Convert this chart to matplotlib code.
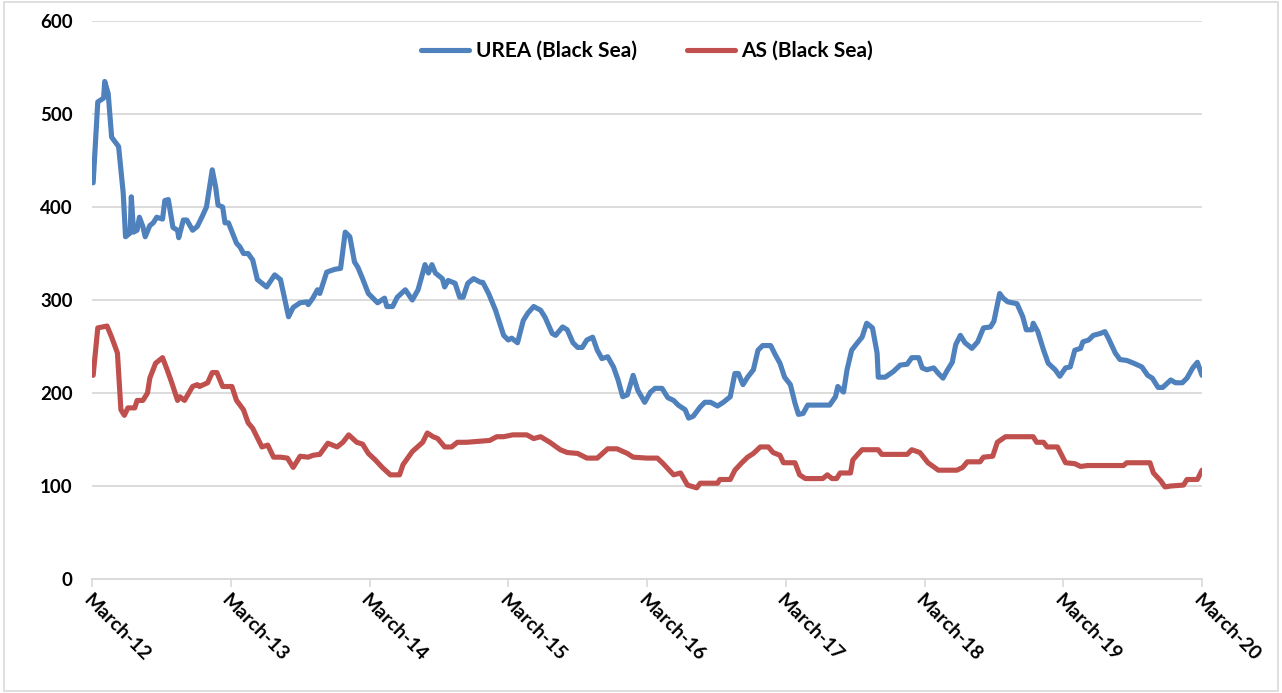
import matplotlib
matplotlib.use("Agg")
import matplotlib.pyplot as plt
from matplotlib.patches import Rectangle

plt.rcParams['font.family'] = ['Lato', 'DejaVu Sans']

# months since March 2012, value (USD/t)
urea_months = [0.1, 0.5, 1.0, 1.1, 1.4, 1.7, 2.3, 2.7, 2.9, 3.3, 3.4, 3.6, 3.9, 4.1, 4.4, 4.6,
               5.0, 5.3, 5.6, 6.1, 6.3, 6.6, 7.0, 7.4, 7.5, 7.9, 8.2, 8.7, 9.1, 9.5, 9.9, 10.4,
               10.7, 10.9, 11.3, 11.5, 11.8, 12.5, 12.8, 13.1, 13.5, 13.9, 14.3, 14.7, 15.1, 15.8,
               16.3, 17.0, 17.4, 18.0, 18.6, 18.7, 19.1, 19.5, 19.7, 20.3, 21.0, 21.5, 21.9, 22.3,
               22.7, 23.0, 23.4, 23.9, 24.7, 25.3, 25.5, 26.0, 26.4, 27.1, 27.7, 28.2, 28.8, 29.1,
               29.4, 29.7, 30.3, 30.5, 30.8, 31.4, 31.8, 32.1, 32.5, 33.0, 33.6, 33.8, 34.3, 34.9,
               35.6, 36.0, 36.3, 36.8, 37.3, 37.7, 38.2, 38.8, 39.2, 39.8, 40.1, 40.7, 41.1, 41.6,
               42.0, 42.4, 42.8, 43.3, 43.7, 44.1, 44.6, 45.1, 45.5, 45.9, 46.3, 46.8, 47.2, 47.8,
               48.3, 48.7, 49.3, 49.8, 50.3, 50.7, 51.3, 51.6, 52.0, 52.6, 53.0, 53.5, 54.1, 54.6,
               55.2, 55.6, 55.9, 56.3, 56.7, 57.2, 57.6, 58.0, 58.7, 59.1, 59.5, 59.9, 60.4, 60.8,
               61.1, 61.5, 61.9, 62.4, 63.8, 64.3, 64.5, 65.0, 65.3, 65.7, 66.2, 66.6, 67.0, 67.5,
               67.9, 68.0, 68.6, 69.3, 69.9, 70.5, 70.9, 71.5, 71.8, 72.2, 72.8, 73.2, 73.6, 74.0,
               74.4, 74.7, 75.1, 75.5, 76.1, 76.6, 77.1, 77.7, 78.0, 78.5, 78.8, 79.2, 80.0, 80.5,
               80.8, 81.3, 81.4, 81.8, 82.3, 82.7, 83.3, 83.7, 84.2, 84.6, 85.0, 85.5, 85.7, 86.2,
               86.6, 87.2, 87.6, 87.9, 88.5, 88.9, 89.5, 90.1, 90.8, 91.3, 91.7, 92.2, 92.6, 93.3,
               93.7, 94.3, 94.7, 95.2, 95.6, 96.0]
urea_values = [426, 513, 517, 535, 522, 475, 465, 415, 368, 372, 411, 373, 375, 389, 379, 368,
               380, 383, 389, 387, 407, 408, 378, 375, 367, 386, 386, 375, 379, 389, 400, 440,
               421, 402, 400, 383, 383, 361, 357, 350, 350, 343, 322, 318, 314, 327,
               322, 282, 292, 297, 298, 295, 302, 311, 307, 330, 333, 334, 373, 368,
               341, 335, 323, 307, 297, 302, 293, 293, 303, 311, 300, 311, 338, 329,
               338, 329, 323, 314, 321, 318, 303, 303, 318, 323, 319, 319, 307, 289,
               262, 257, 259, 254, 278, 286, 293, 289, 281, 264, 262, 271, 268, 254,
               249, 249, 257, 260, 246, 237, 239, 228, 214, 196, 198, 219, 203, 190,
               201, 205, 205, 195, 192, 187, 182, 173, 175, 185, 190, 190, 186, 190,
               196, 221, 221, 209, 217, 225, 246, 251, 251, 241, 232, 217, 209, 189,
               177, 178, 187, 187, 187, 196, 207, 201, 225, 246, 254, 260, 275, 270,
               243, 217, 217, 223, 230, 231, 238, 238, 227, 225, 227, 221, 216, 225,
               233, 252, 262, 254, 248, 255, 270, 271, 277, 307, 302, 298, 296, 282,
               268, 268, 275, 266, 246, 232, 225, 218, 227, 228, 246, 248, 255, 257,
               262, 264, 266, 259, 243, 236, 235, 232, 228, 219, 216, 206, 206, 214,
               211, 211, 216, 227, 233, 219]

as_months = [0.1, 0.5, 1.3, 1.7, 2.2, 2.5, 2.8, 3.1, 3.7, 3.9, 4.4, 4.8, 5.0, 5.5, 6.1, 6.5,
             6.9, 7.4, 7.6, 8.0, 8.7, 9.1, 9.3, 10.0, 10.4, 10.8, 11.3, 12.1, 12.5, 13.1, 13.5,
             13.9, 14.3, 14.7, 15.2, 15.7, 16.3, 16.9, 17.4, 18.0, 18.7, 19.1, 19.7, 20.4, 21.2,
             21.7, 22.2, 22.9, 23.4, 23.9, 24.5, 25.1, 25.8, 26.6, 26.9, 27.7, 28.6, 29.0, 29.5,
             29.9, 30.5, 31.1, 31.6, 32.4, 34.4, 35.0, 35.6, 36.4, 37.6, 38.2, 38.8, 39.6, 40.5,
             41.1, 42.0, 42.8, 43.7, 44.6, 45.4, 46.3, 46.8, 48.0, 48.9, 49.4, 50.3, 50.9, 51.5,
             52.3, 52.6, 54.1, 54.3, 55.2, 55.6, 56.2, 56.7, 57.2, 57.8, 58.5, 58.9, 59.5, 59.8,
             60.8, 61.2, 61.7, 63.2, 63.6, 64.0, 64.4, 64.7, 65.6, 65.8, 66.3, 66.6, 68.0, 68.3,
             70.5, 70.9, 71.6, 72.3, 73.2, 74.8, 75.3, 75.7, 76.8, 77.1, 77.9, 78.3, 79.0, 81.4,
             81.7, 82.3, 82.6, 83.5, 84.2, 85.0, 85.5, 86.1, 89.2, 89.5, 91.5, 91.8, 92.4, 92.8,
             93.3, 94.4, 94.7, 95.6, 96.0]
as_values = [219, 270, 272, 260, 243, 182, 176, 184, 184, 192, 192, 200, 216, 232, 238, 225,
             211, 192, 196, 192, 207, 209, 207, 211, 222, 222, 207, 207, 192, 182, 168,
             162, 152, 142, 144, 131, 131, 130, 120, 132, 131, 133, 134, 146, 142,
             147, 155, 147, 145, 135, 128, 120, 112, 112, 123, 137, 147, 157, 153,
             151, 142, 142, 147, 147, 149, 153, 153, 155, 155, 151, 153, 147, 139,
             136, 135, 130, 130, 140, 140, 135, 131, 130, 130, 124, 112, 114, 101,
             98, 103, 103, 107, 107, 117, 125, 131, 135, 142, 142, 136, 133, 125,
             125, 112, 108, 108, 112, 108, 108, 114, 114, 128, 135, 139, 139, 134,
             134, 139, 136, 125, 117, 117, 120, 126, 126, 131, 132, 147, 153, 153,
             147, 147, 142, 142, 125, 124, 121, 122, 122, 125, 125, 114, 106, 99,
             100, 101, 107, 107, 117]

tick_months = [0, 12, 24, 36, 48, 60, 72, 84, 96]
tick_labels = ['March-12', 'March-13', 'March-14', 'March-15', 'March-16',
               'March-17', 'March-18', 'March-19', 'March-20']
y_ticks = [0, 100, 200, 300, 400, 500, 600]

fig = plt.figure(figsize=(12.82, 6.93), dpi=100)
ax = fig.add_axes([92/1282, 1 - 579/693, 1110/1282, 558/693])

ax.plot(urea_months, urea_values, color='#4F81BD', lw=3.7, label='UREA (Black Sea)',
        solid_joinstyle='round', solid_capstyle='round')
ax.plot(as_months, as_values, color='#C0504D', lw=3.7, label='AS (Black Sea)',
        solid_joinstyle='round', solid_capstyle='round')

ax.set_xlim(0, 96)
ax.set_ylim(0, 600)
ax.set_yticks(y_ticks)
ax.set_xticks(tick_months)
ax.set_xticklabels(tick_labels, rotation=-45, ha='left', va='top', rotation_mode='anchor',
                   fontsize=14, fontweight='bold')
for lab in ax.get_yticklabels():
    lab.set_fontweight('bold')
    lab.set_fontsize(13.5)
ax.tick_params(axis='y', length=0, pad=14)
ax.tick_params(axis='x', length=6, color='#d9d9d9', width=1.2, pad=3)

ax.grid(axis='y', color='#d9d9d9', lw=1.3)
ax.set_axisbelow(True)
for s in ['left', 'right', 'top']:
    ax.spines[s].set_visible(False)
ax.spines['bottom'].set_color('#d9d9d9')
ax.spines['bottom'].set_linewidth(1.3)

leg = ax.legend(loc='upper center', bbox_to_anchor=(0.5, 0.998), ncol=2, frameon=False,
                prop={'weight': 'bold', 'size': 15}, handlelength=2.3, handletextpad=0.3,
                columnspacing=2.4)

fig.patches.append(Rectangle((0.003, 0.003), 0.994, 0.994, transform=fig.transFigure,
                             fill=False, edgecolor='#d9d9d9', lw=1.2))

fig.savefig('out.png', dpi=100)
